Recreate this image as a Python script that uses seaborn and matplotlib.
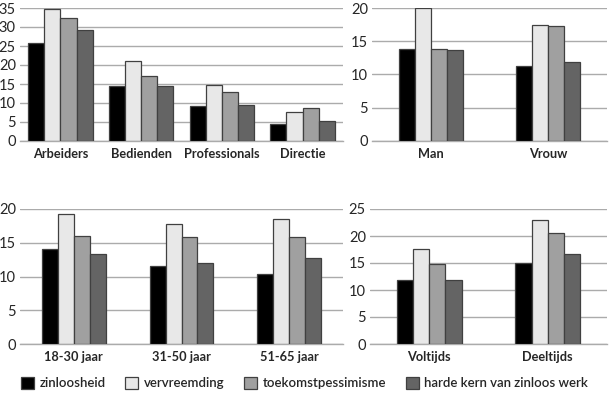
import pandas as pd
import seaborn as sns
import matplotlib.pyplot as plt

# series (legend order)
series = ["zinloosheid", "vervreemding", "toekomstpessimisme", "harde kern van zinloos werk"]
colors = ["#000000", "#e8e8e8", "#a0a0a0", "#646464"]

# panel 1: beroep
beroep = ["Arbeiders", "Bedienden", "Professionals", "Directie"]
beroep_vals = [
    [25.7, 14.5, 9.1, 4.5],
    [34.7, 21.1, 14.8, 7.6],
    [32.3, 17.2, 12.9, 8.8],
    [29.2, 14.5, 9.5, 5.2],
]

# panel 2: geslacht
geslacht = ["Man", "Vrouw"]
geslacht_vals = [
    [13.8, 11.3],
    [20.0, 17.5],
    [13.8, 17.3],
    [13.7, 11.9],
]

# panel 3: leeftijd
leeftijd = ["18-30 jaar", "31-50 jaar", "51-65 jaar"]
leeftijd_vals = [
    [14.1, 11.6, 10.3],
    [19.3, 17.8, 18.5],
    [16.0, 15.8, 15.8],
    [13.3, 12.0, 12.7],
]

# panel 4: regime
regime = ["Voltijds", "Deeltijds"]
regime_vals = [
    [11.8, 15.0],
    [17.6, 22.9],
    [14.8, 20.6],
    [11.9, 16.7],
]


def make_df(cats, vals):
    rows = []
    for s, v in zip(series, vals):
        for c, x in zip(cats, v):
            rows.append({"cat": c, "serie": s, "val": x})
    return pd.DataFrame(rows)


sns.set_style("white")
plt.rcParams["font.family"] = ["Lato", "DejaVu Sans"]

fig = plt.figure(figsize=(6.09, 3.99), dpi=100)
W, H = 609, 399

panels = [
    # cats, vals, [left, top, right, bottom] in px, ymax, step, width
    (beroep, beroep_vals, [20, 8, 343, 141], 35, 5, 0.8),
    (geslacht, geslacht_vals, [372, 8, 607, 141], 20, 5, 0.545),
    (leeftijd, leeftijd_vals, [20, 209, 343, 344], 20, 5, 0.59),
    (regime, regime_vals, [370, 209, 607, 344], 25, 5, 0.545),
]

axes = []
for cats, vals, box, ymax, step, w in panels:
    l, t, r, b = box
    ax = fig.add_axes([l / W, 1 - b / H, (r - l) / W, (b - t) / H])
    df = make_df(cats, vals)
    sns.barplot(data=df, x="cat", y="val", hue="serie", palette=colors,
                width=w, gap=0.0, edgecolor="#404040", linewidth=0.9,
                ax=ax, legend=True, zorder=3)
    ax.set_ylim(0, ymax)
    ax.set_yticks(range(0, ymax + 1, step))
    ax.yaxis.grid(True, color="#ababab", linewidth=1, zorder=0)
    ax.set_axisbelow(True)
    for side in ["top", "right", "left"]:
        ax.spines[side].set_visible(False)
    ax.spines["bottom"].set_color("#ababab")
    ax.spines["bottom"].set_linewidth(1)
    ax.tick_params(axis="both", length=0, pad=4)
    ax.tick_params(axis="y", labelsize=10.5, pad=3)
    ax.tick_params(axis="x", labelsize=9.2, pad=5)
    for lab in ax.get_xticklabels():
        lab.set_fontweight("bold")
    ax.set_xlabel("")
    ax.set_ylabel("")
    axes.append(ax)

handles, labels = axes[0].get_legend_handles_labels()
for ax in axes:
    ax.get_legend().remove()

fig.legend(handles, labels, loc="center", bbox_to_anchor=(0.5, 1 - 383 / H),
           ncol=4, frameon=False, fontsize=9.5, handlelength=1.0,
           handleheight=1.0, columnspacing=1.5, handletextpad=0.4,
           prop={"weight": "semibold", "size": 9.5})

fig.savefig("out.png", dpi=100)
